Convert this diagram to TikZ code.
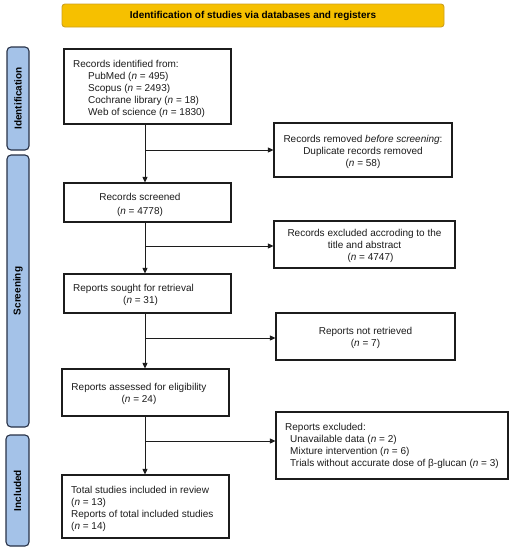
\documentclass[tikz,border=0pt]{standalone}
\usepackage{fontspec}
\setmainfont{Liberation Sans}
\usetikzlibrary{arrows.meta}
\definecolor{banner}{RGB}{246,192,0}
\definecolor{bannerline}{RGB}{205,160,30}
\definecolor{sidefill}{RGB}{164,194,232}
\definecolor{sideline}{RGB}{40,50,72}
\definecolor{ink}{RGB}{28,28,28}
\tikzset{
  box/.style={draw=ink, line width=1.1pt, fill=white, inner sep=0pt, rectangle},
  txt/.style={inner sep=0pt, text=ink, font=\fontsize{10}{12}\selectfont},
  side/.style={draw=sideline, line width=1.1pt, fill=sidefill, rounded corners=4pt, inner sep=0pt},
  sidetxt/.style={inner sep=0pt, rotate=90, text=black, font=\fontsize{10}{12}\selectfont\bfseries},
  arr/.style={draw=ink, line width=0.8pt, -{Triangle[length=5.5pt,width=5pt]}},
}
\begin{document}
\begin{tikzpicture}[x=1pt,y=-1pt]
\path[use as bounding box, fill=white] (0,0) rectangle (512,550);

% banner
\node[draw=bannerline, line width=0.9pt, fill=banner, rounded corners=3pt, minimum width=382pt, minimum height=23pt, inner sep=0pt] (ban) at (253,15.5) {};
\node[txt, font=\fontsize{10}{12}\selectfont\bfseries, text=black] (bantxt) at (253,15.5) {Identification of studies via databases and registers};

% side bars
\node[side, minimum width=22pt, minimum height=103pt] (sid) at (18,98.5) {};
\node[sidetxt] (sidt) at (18,98.5) {Identification};
\node[side, minimum width=22pt, minimum height=272pt] (sscr) at (18,291) {};
\node[sidetxt] (sscrt) at (18,291) {Screening};
\node[side, minimum width=23pt, minimum height=111pt] (sinc) at (17.5,490.5) {};
\node[sidetxt] (sinct) at (17.5,490.5) {Included};

% boxes
\node[box, minimum width=167pt, minimum height=75pt] (b1) at (147.5,86.5) {};
\node[box, minimum width=178pt, minimum height=54pt] (b2) at (363,150) {};
\node[box, minimum width=167pt, minimum height=39pt] (b3) at (147.5,202.5) {};
\node[box, minimum width=181pt, minimum height=47pt] (b4) at (364.5,244.5) {};
\node[box, minimum width=167pt, minimum height=39pt] (b5) at (147.5,293.5) {};
\node[box, minimum width=179pt, minimum height=47pt] (b6) at (365.5,336.5) {};
\node[box, minimum width=167pt, minimum height=47pt] (b7) at (145.5,392.5) {};
\node[box, minimum width=232pt, minimum height=67pt] (b8) at (392,445.5) {};
\node[box, minimum width=167pt, minimum height=63pt] (b9) at (145.5,506.5) {};

% texts
\node[txt, align=left, anchor=north west] (t1) at (73,60.3) {Records identified from:\\
\hspace*{15pt}PubMed (\textit{n} = 495)\\
\hspace*{15pt}Scopus (\textit{n} = 2493)\\
\hspace*{15pt}Cochrane library (\textit{n} = 18)\\
\hspace*{15pt}Web of science (\textit{n} = 1830)};
\node[txt, align=center] (t2) at (363,151.5) {Records removed \textit{before screening}:\\Duplicate records removed\\(\textit{n} = 58)};
\node[txt, align=center] (t3) at (140,204.5) {Records screened\\[2pt](\textit{n} = 4778)};
\node[txt, align=center] (t4) at (364.5,245.5) {Records excluded accroding to the\\title and abstract\\\hspace*{12pt}(\textit{n} = 4747)};
\node[txt, align=left, anchor=north west] (t5) at (73,284.3) {Reports sought for retrieval\\\hspace*{50pt}(\textit{n} = 31)};
\node[txt, align=center] (t6) at (365.5,338) {Reports not retrieved\\(\textit{n} = 7)};
\node[txt, align=center] (t7) at (139,394) {Reports assessed for eligibility\\(\textit{n} = 24)};
\node[txt, align=left, anchor=north west] (t8) at (285,423.3) {Reports excluded:\\
\hspace*{5pt}Unavailable data (\textit{n} = 2)\\
\hspace*{5pt}Mixture intervention (\textit{n} = 6)\\
\hspace*{5pt}Trials without accurate dose of β-glucan (\textit{n} = 3)};
\node[txt, align=left, anchor=north west] (t9) at (71,486.3) {Total studies included in review\\(\textit{n} = 13)\\Reports of total included studies\\(\textit{n} = 14)};

% connectors
\coordinate (sp) at (145,0);
\draw[arr] (b1.south -| sp) -- (b3.north -| sp);
\draw[arr] (b3.south -| sp) -- (b5.north -| sp);
\draw[arr] (b5.south -| sp) -- (b7.north -| sp);
\draw[arr] (b7.south -| sp) -- (b9.north -| sp);
\coordinate (j1) at (145,150);
\coordinate (j2) at (145,246);
\coordinate (j3) at (145,338);
\coordinate (j4) at (145,441);
\draw[arr] (j1) -- (j1 -| b2.west);
\draw[arr] (j2) -- (j2 -| b4.west);
\draw[arr] (j3) -- (j3 -| b6.west);
\draw[arr] (j4) -- (j4 -| b8.west);
\end{tikzpicture}
\end{document}
